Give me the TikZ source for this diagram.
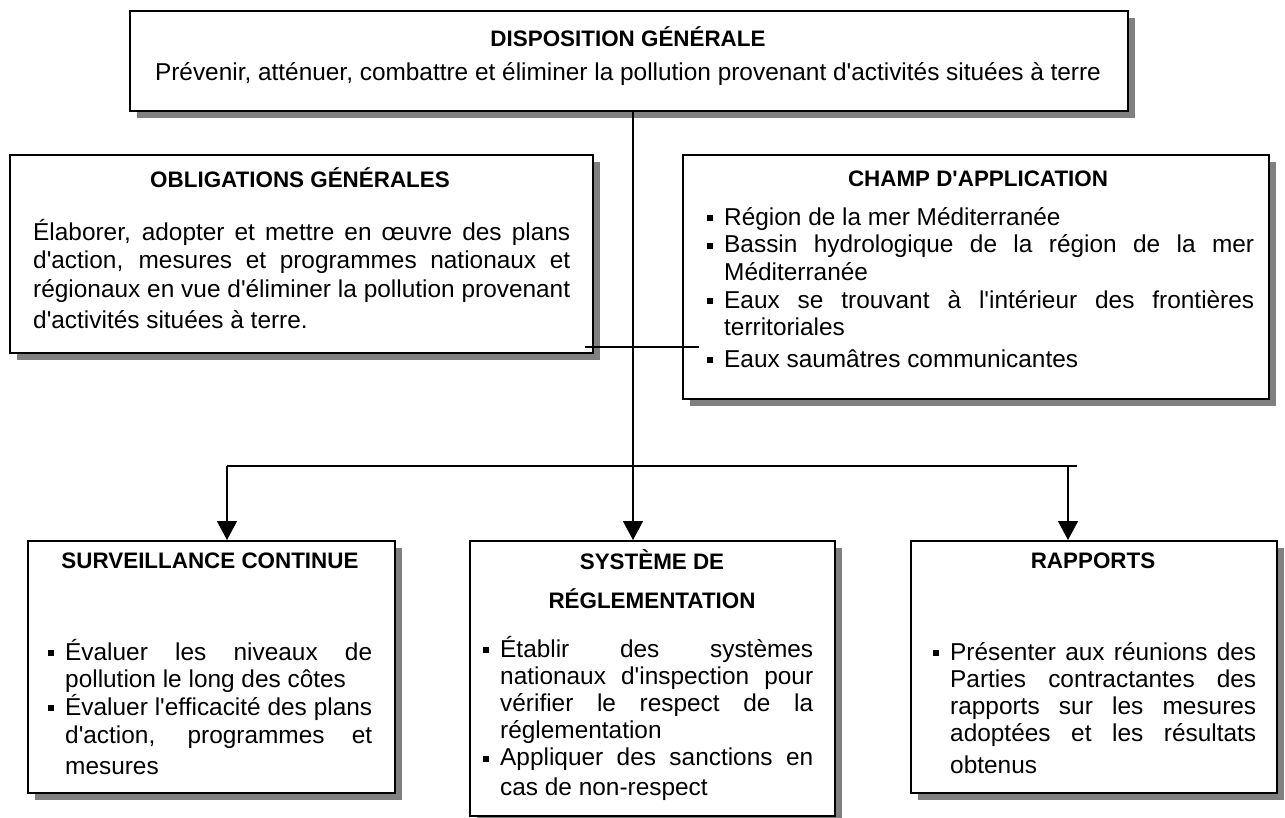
\documentclass[tikz,border=0pt]{standalone}
\usepackage{fontspec}
\setmainfont{Liberation Sans}[Ligatures=TeXOff]
\usetikzlibrary{arrows.meta,shadows}
\newcommand\jline[1]{\makebox[\linewidth][s]{#1}\par}
\newcommand\rline[1]{\makebox[\linewidth][l]{#1}\par}
\newcommand\bul{\llap{\rule[4pt]{6pt}{6pt}\hspace{11pt}}}
\tikzset{
  box/.style={draw, line width=1.8pt, fill=white, inner sep=0pt, anchor=north west,
    drop shadow={shadow xshift=7.5pt, shadow yshift=-7.5pt, fill=gray, opacity=1}},
  ttl/.style={inner sep=0pt, anchor=base, font=\fontsize{22.4}{26}\selectfont\bfseries},
  sub/.style={inner sep=0pt, anchor=base, font=\fontsize{24.4}{28}\selectfont},
  txt/.style={inner sep=0pt, anchor=base west, font=\fontsize{24.4}{28}\selectfont},
  conn/.style={line width=1.5pt},
  arr/.style={conn, -{Triangle[width=20pt,length=19pt]}},
}
\begin{document}
\begin{tikzpicture}[x=1pt,y=-1pt]
\useasboundingbox (0,0) rectangle (1285,817);
\fill[white] (0,0) rectangle (1285,817);

% boxes
\node[box, minimum width=998pt, minimum height=100pt] (top) at (129,10) {};
\node[box, minimum width=583pt, minimum height=198pt] (obl) at (9,154) {};
\node[box, minimum width=586pt, minimum height=244pt] (champ) at (682,154) {};
\node[box, minimum width=367pt, minimum height=252pt] (surv) at (27,540) {};
\node[box, minimum width=365pt, minimum height=275pt] (regl) at (469,540) {};
\node[box, minimum width=366pt, minimum height=252pt] (rap) at (910,540) {};

% texts
\node[ttl] (topt) at (628,46) {DISPOSITION GÉNÉRALE};
\node[sub] (tops) at (628,80) {Prévenir, atténuer, combattre et éliminer la pollution provenant d'activités situées à terre};

\node[ttl] (oblt) at (300,187) {OBLIGATIONS GÉNÉRALES};
\node[txt] (oblx) at (33,240) {\parbox[t]{537pt}{\setlength\baselineskip{28.5pt}%
  \jline{Élaborer, adopter et mettre en œuvre des plans}%
  \jline{d'action, mesures et programmes nationaux et}%
  \jline{régionaux en vue d'éliminer la pollution provenant}%
  \vspace{2.5pt}%
  \rline{d'activités situées à terre.}}};

\node[ttl] (champt) at (978,186) {CHAMP D'APPLICATION};
\node[txt] (champx) at (724,225) {\parbox[t]{530pt}{\setlength\baselineskip{27.5pt}%
  \rline{\bul Région de la mer Méditerranée}%
  \jline{\bul Bassin hydrologique de la région de la mer}%
  \rline{Méditerranée}%
  \vspace{0.5pt}%
  \jline{\bul Eaux se trouvant à l'intérieur des frontières}%
  \rline{territoriales}%
  \vspace{4pt}%
  \rline{\bul Eaux saumâtres communicantes}}};

\node[ttl] (survt) at (210,568) {SURVEILLANCE CONTINUE};
\node[txt] (survx) at (65,660) {\parbox[t]{307pt}{\setlength\baselineskip{27.7pt}%
  \jline{\bul Évaluer les niveaux de}%
  \rline{pollution le long des côtes}%
  \jline{\bul Évaluer l'efficacité des plans}%
  \jline{d'action, programmes et}%
  \vspace{4pt}%
  \rline{mesures}}};

\node[ttl] (reglt) at (652,569) {SYSTÈME DE};
\node[ttl] (reglt2) at (652,608) {RÉGLEMENTATION};
\node[txt] (reglx) at (500,657) {\parbox[t]{313pt}{\setlength\baselineskip{27.2pt}%
  \jline{\bul Établir des systèmes}%
  \jline{nationaux d'inspection pour}%
  \jline{vérifier le respect de la}%
  \rline{réglementation}%
  \jline{\bul Appliquer des sanctions en}%
  \vspace{2pt}%
  \rline{cas de non-respect}}};

\node[ttl] (rapt) at (1093,568) {RAPPORTS};
\node[txt] (rapx) at (950,660) {\parbox[t]{306pt}{\setlength\baselineskip{27.2pt}%
  \jline{\bul Présenter aux réunions des}%
  \jline{Parties contractantes des}%
  \jline{rapports sur les mesures}%
  \jline{adoptées et les résultats}%
  \vspace{5pt}%
  \rline{obtenus}}};

% connectors
\coordinate (s0) at (633,110);
\coordinate (hbL) at (227,466);
\coordinate (hbR) at (1077,466);
\coordinate (hbA) at (1068,466);
\coordinate (sl) at (585,347);
\coordinate (sr) at (699,347);
\draw[arr] (s0) -- (s0 |- regl.north);
\draw[conn] (hbL) -- (hbR);
\draw[arr] (hbL) -- (hbL |- surv.north);
\draw[arr] (hbA) -- (hbA |- rap.north);
\draw[conn] (sl) -- (sr);
\end{tikzpicture}
\end{document}
